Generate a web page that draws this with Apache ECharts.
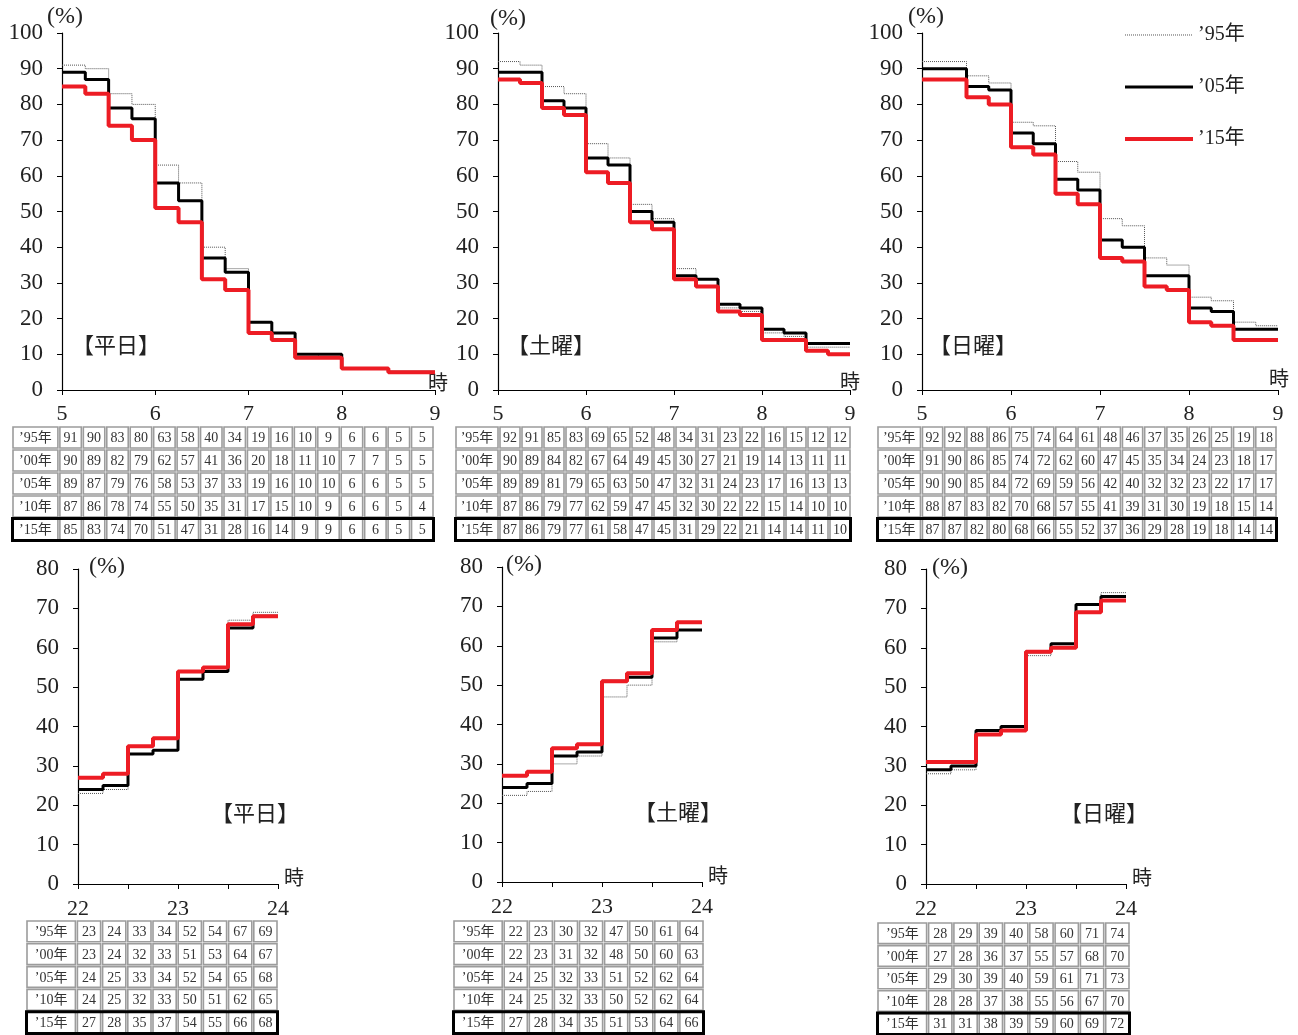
<!DOCTYPE html>
<html>
<head>
<meta charset="utf-8">
<script src="https://cdn.jsdelivr.net/npm/echarts@6/dist/echarts.min.js"></script>
<style>
html,body{margin:0;padding:0;background:#fff;}
#main{width:1298px;height:1035px;}
</style>
</head>
<body>
<div id="main"></div>
<script>
// ---------- data ----------
const yearLabels = ['’95年', '’00年', '’05年', '’10年', '’15年'];
const plottedYears = ['’95年', '’05年', '’15年'];
const morningStarts = [5.00, 5.25, 5.50, 5.75, 6.00, 6.25, 6.50, 6.75, 7.00, 7.25, 7.50, 7.75, 8.00, 8.25, 8.50, 8.75];
const morningEnd = 9;
const nightStarts = [22.00, 22.25, 22.50, 22.75, 23.00, 23.25, 23.50, 23.75];
const nightEnd = 24;
const morningTicks = [5, 6, 7, 8, 9];
const nightTicks = [22, 23, 24];

// 平日 morning (still asleep %)
const wdMorning95 = [91, 90, 83, 80, 63, 58, 40, 34, 19, 16, 10, 9, 6, 6, 5, 5];
const wdMorning00 = [90, 89, 82, 79, 62, 57, 41, 36, 20, 18, 11, 10, 7, 7, 5, 5];
const wdMorning05 = [89, 87, 79, 76, 58, 53, 37, 33, 19, 16, 10, 10, 6, 6, 5, 5];
const wdMorning10 = [87, 86, 78, 74, 55, 50, 35, 31, 17, 15, 10, 9, 6, 6, 5, 4];
const wdMorning15 = [85, 83, 74, 70, 51, 47, 31, 28, 16, 14, 9, 9, 6, 6, 5, 5];
// 土曜 morning
const saMorning95 = [92, 91, 85, 83, 69, 65, 52, 48, 34, 31, 23, 22, 16, 15, 12, 12];
const saMorning00 = [90, 89, 84, 82, 67, 64, 49, 45, 30, 27, 21, 19, 14, 13, 11, 11];
const saMorning05 = [89, 89, 81, 79, 65, 63, 50, 47, 32, 31, 24, 23, 17, 16, 13, 13];
const saMorning10 = [87, 86, 79, 77, 62, 59, 47, 45, 32, 30, 22, 22, 15, 14, 10, 10];
const saMorning15 = [87, 86, 79, 77, 61, 58, 47, 45, 31, 29, 22, 21, 14, 14, 11, 10];
// 日曜 morning
const suMorning95 = [92, 92, 88, 86, 75, 74, 64, 61, 48, 46, 37, 35, 26, 25, 19, 18];
const suMorning00 = [91, 90, 86, 85, 74, 72, 62, 60, 47, 45, 35, 34, 24, 23, 18, 17];
const suMorning05 = [90, 90, 85, 84, 72, 69, 59, 56, 42, 40, 32, 32, 23, 22, 17, 17];
const suMorning10 = [88, 87, 83, 82, 70, 68, 57, 55, 41, 39, 31, 30, 19, 18, 15, 14];
const suMorning15 = [87, 87, 82, 80, 68, 66, 55, 52, 37, 36, 29, 28, 19, 18, 14, 14];
// 平日 night (asleep %)
const wdNight95 = [23, 24, 33, 34, 52, 54, 67, 69];
const wdNight00 = [23, 24, 32, 33, 51, 53, 64, 67];
const wdNight05 = [24, 25, 33, 34, 52, 54, 65, 68];
const wdNight10 = [24, 25, 32, 33, 50, 51, 62, 65];
const wdNight15 = [27, 28, 35, 37, 54, 55, 66, 68];
// 土曜 night
const saNight95 = [22, 23, 30, 32, 47, 50, 61, 64];
const saNight00 = [22, 23, 31, 32, 48, 50, 60, 63];
const saNight05 = [24, 25, 32, 33, 51, 52, 62, 64];
const saNight10 = [24, 25, 32, 33, 50, 52, 62, 64];
const saNight15 = [27, 28, 34, 35, 51, 53, 64, 66];
// 日曜 night
const suNight95 = [28, 29, 39, 40, 58, 60, 71, 74];
const suNight00 = [27, 28, 36, 37, 55, 57, 68, 70];
const suNight05 = [29, 30, 39, 40, 59, 61, 71, 73];
const suNight10 = [28, 28, 37, 38, 55, 56, 67, 70];
const suNight15 = [31, 31, 38, 39, 59, 60, 69, 72];

const panelTitles = ['【平日】', '【土曜】', '【日曜】', '【平日】', '【土曜】', '【日曜】'];

// ---------- layout / style ----------
const SERIF = "'Liberation Serif','Noto Sans CJK JP'";
const RED = '#ED1C24';
const lineStyles = [
  {color: '#555', width: 1, type: 'dotted'},
  {color: '#000', width: 3, type: 'solid'},
  {color: RED, width: 4, type: 'solid'}
];
const panels = [
  {grid: {left: 62, top: 33, width: 373, height: 357}, kind: 'm', rows: [wdMorning95, wdMorning00, wdMorning05, wdMorning10, wdMorning15],
   table: {left: 12, top: 426, width: 422, height: 115}, pct: [65, 17], hr: [438, 382], title: [116, 345]},
  {grid: {left: 498, top: 33, width: 352, height: 357}, kind: 'm', rows: [saMorning95, saMorning00, saMorning05, saMorning10, saMorning15],
   table: {left: 455, top: 426, width: 396, height: 115}, pct: [508, 19], hr: [850, 381], title: [551, 345]},
  {grid: {left: 922, top: 33, width: 356, height: 357}, kind: 'm', rows: [suMorning95, suMorning00, suMorning05, suMorning10, suMorning15],
   table: {left: 877, top: 426, width: 400, height: 115}, pct: [926, 17], hr: [1279, 378], title: [973, 345]},
  {grid: {left: 78, top: 569, width: 200, height: 315}, kind: 'n', rows: [wdNight95, wdNight00, wdNight05, wdNight10, wdNight15],
   table: {left: 26, top: 920, width: 252, height: 114}, pct: [107, 567], hr: [294, 877], title: [255, 813]},
  {grid: {left: 502, top: 567, width: 200, height: 315}, kind: 'n', rows: [saNight95, saNight00, saNight05, saNight10, saNight15],
   table: {left: 453, top: 920, width: 251, height: 114}, pct: [524, 565], hr: [718, 875], title: [678, 812]},
  {grid: {left: 926, top: 569, width: 200, height: 315}, kind: 'n', rows: [suNight95, suNight00, suNight05, suNight10, suNight15],
   table: {left: 877, top: 922, width: 253, height: 114}, pct: [950, 568], hr: [1142, 877], title: [1104, 813]}
];

const grids = [], xAxes = [], yAxes = [], series = [], graphics = [];

function stepData(starts, end, vals) {
  const d = starts.map((t, i) => [t, vals[i]]);
  d.push([end, vals[vals.length - 1]]);
  return d;
}

function cellRenderer(texts) {
  return function (params, api) {
    const x0 = api.value(0), x1 = api.value(1), r = api.value(2);
    const p0 = api.coord([x0, r]);
    const p1 = api.coord([x1, r + 1]);
    const x = Math.min(p0[0], p1[0]), y = Math.min(p0[1], p1[1]);
    const w = Math.abs(p1[0] - p0[0]), h = Math.abs(p1[1] - p0[1]);
    return {
      type: 'group',
      children: [
        {type: 'rect', shape: {x: x + 1, y: y + 1, width: w - 2, height: h - 2},
         style: {fill: '#fff', stroke: '#9c9c9c', lineWidth: 1.6}},
        {type: 'text', style: {text: texts[params.dataIndex], x: x + w / 2, y: y + h / 2 + 1,
          align: 'center', verticalAlign: 'middle',
          font: '14px ' + SERIF, fill: '#333'}}
      ]
    };
  };
}

panels.forEach((p, k) => {
  const gi = grids.length;
  const morning = p.kind === 'm';
  grids.push(Object.assign({containLabel: false}, p.grid));
  xAxes.push({
    gridIndex: gi, type: 'value',
    min: morning ? morningTicks[0] : nightTicks[0],
    max: morning ? morningTicks[morningTicks.length - 1] : nightTicks[nightTicks.length - 1],
    interval: morning ? 1 : 0.5,
    axisLine: {show: true, onZero: false, lineStyle: {color: '#000', width: 1.2}},
    axisTick: {show: true, length: 5, lineStyle: {color: '#000'}},
    axisLabel: {fontFamily: SERIF, fontSize: 22, color: '#222', margin: morning ? 13 : 14,
      formatter: v => (Math.abs(v - Math.round(v)) < 1e-9 ? String(Math.round(v)) : '')},
    splitLine: {show: false}
  });
  yAxes.push({
    gridIndex: gi, type: 'value', min: 0, max: morning ? 100 : 80, interval: 10,
    axisLine: {show: true, lineStyle: {color: '#000', width: 1.2}},
    axisTick: {show: true, length: 5, lineStyle: {color: '#000'}},
    axisLabel: {fontFamily: SERIF, fontSize: 23, color: '#222', margin: 19},
    splitLine: {show: false}
  });
  const starts = morning ? morningStarts : nightStarts;
  const end = morning ? morningEnd : nightEnd;
  const plotted = [p.rows[0], p.rows[2], p.rows[4]];
  plotted.forEach((vals, j) => {
    series.push({
      type: 'line', name: plottedYears[j], xAxisIndex: gi, yAxisIndex: gi,
      data: stepData(starts, end, vals), step: 'end', symbol: 'none',
      lineStyle: lineStyles[j], itemStyle: {color: lineStyles[j].color}, z: 2 + j, animation: false
    });
  });

  // table
  const ti = grids.length;
  const nCols = starts.length;
  grids.push(Object.assign({containLabel: false}, p.table));
  xAxes.push({gridIndex: ti, type: 'value', min: -2, max: nCols, show: false});
  yAxes.push({gridIndex: ti, type: 'value', min: 0, max: 5, inverse: true, show: false});
  const cells = [], texts = [];
  p.rows.forEach((vals, r) => {
    cells.push([-2, 0, r]); texts.push(yearLabels[r]);
    vals.forEach((v, c) => { cells.push([c, c + 1, r]); texts.push(String(v)); });
  });
  series.push({type: 'custom', xAxisIndex: ti, yAxisIndex: ti, data: cells,
    renderItem: cellRenderer(texts), animation: false, silent: true});
  series.push({type: 'custom', xAxisIndex: ti, yAxisIndex: ti, data: [[-2, nCols, 4]], z: 5,
    renderItem: function (params, api) {
      const a = api.coord([api.value(0), api.value(2)]);
      const b = api.coord([api.value(1), api.value(2) + 1]);
      return {type: 'rect', shape: {x: a[0] + 0.5, y: a[1] + 0.5, width: b[0] - a[0] - 1, height: b[1] - a[1] - 1},
        style: {fill: 'none', stroke: '#000', lineWidth: 3}};
    }, animation: false, silent: true});

  graphics.push({type: 'text', x: p.pct[0], y: p.pct[1],
    style: {text: '(%)', font: '24px ' + SERIF, fill: '#222', align: 'center', verticalAlign: 'middle'}});
  graphics.push({type: 'text', x: p.hr[0], y: p.hr[1],
    style: {text: '時', font: '20px "Noto Sans CJK JP"', fill: '#222', align: 'center', verticalAlign: 'middle'}});
  graphics.push({type: 'text', x: p.title[0], y: p.title[1],
    style: {text: panelTitles[k], font: '22px "Noto Sans CJK JP"', fill: '#222', align: 'center', verticalAlign: 'middle'}});
});

const chart = echarts.init(document.getElementById('main'), null, {renderer: 'canvas'});
chart.setOption({
  backgroundColor: '#fff',
  animation: false,
  grid: grids, xAxis: xAxes, yAxis: yAxes, series: series, graphic: graphics,
  legend: {
    data: plottedYears.map((n, j) => ({name: n, lineStyle: {width: lineStyles[j].width, type: lineStyles[j].type, color: lineStyles[j].color}})),
    orient: 'vertical', left: 1118, top: 20,
    itemWidth: 68, itemHeight: 14, itemGap: 32,
    itemStyle: {opacity: 0, borderWidth: 0},
    textStyle: {fontFamily: SERIF, fontSize: 20, color: '#222'},
    selectedMode: false
  }
});
</script>
</body>
</html>
